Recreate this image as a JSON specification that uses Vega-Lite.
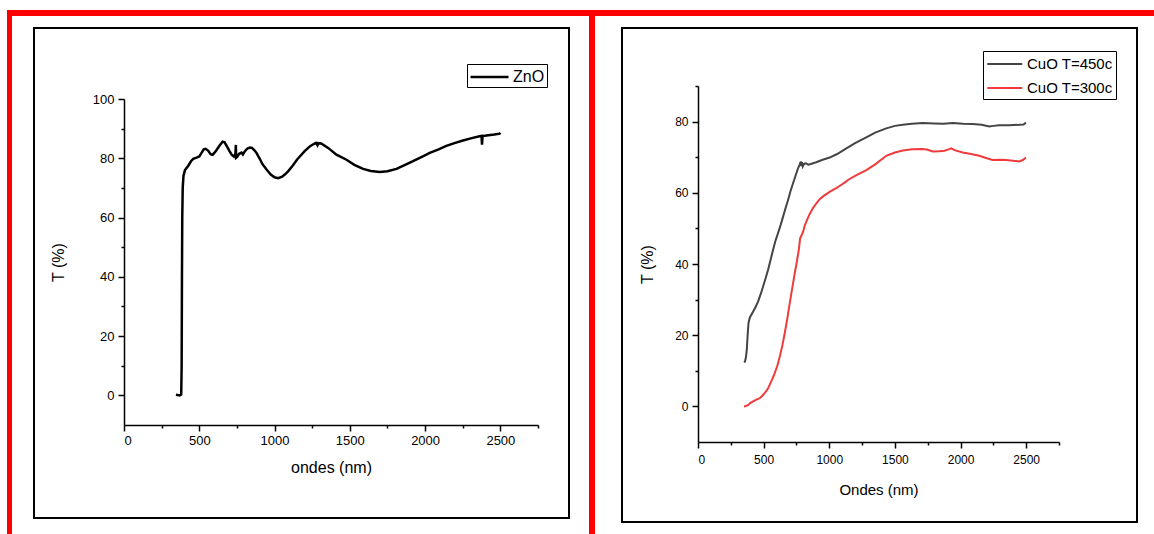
{
  "$schema": "https://vega.github.io/schema/vega-lite/v6.json",
  "background": "white",
  "padding": {"left": 7, "top": 10, "right": 0, "bottom": 0},
  "spacing": 0,
  "resolve": {"scale": {"color": "independent"}, "legend": {"color": "independent"}},
  "config": {
    "view": {"stroke": null},
    "font": "Liberation Sans",
    "axis": {"grid": false, "domainColor": "black", "domainWidth": 1.5, "tickColor": "black", "tickWidth": 1.5, "labelColor": "black", "titleColor": "black", "titleFontWeight": "normal", "labelOverlap": false, "labelFont": "Liberation Sans", "titleFont": "Liberation Sans"},
    "legend": {"labelFont": "Liberation Sans"}
  },
  "datasets": {
    "zno": [
      {"x":345,"y":0.2},{"x":370,"y":0.0},{"x":380,"y":0.3},{"x":383,"y":10},{"x":385,"y":40},{"x":387,"y":60},{"x":390,"y":70},{"x":395,"y":74},{"x":405,"y":76},{"x":427,"y":77.5},{"x":445,"y":79},{"x":460,"y":79.8},{"x":482,"y":80.2},{"x":500,"y":80.6},{"x":515,"y":81.8},{"x":530,"y":83},{"x":542,"y":83.2},{"x":560,"y":82.5},{"x":575,"y":81.4},{"x":589,"y":81.2},{"x":600,"y":81.8},{"x":615,"y":82.8},{"x":635,"y":84.3},{"x":655,"y":85.6},{"x":668,"y":85.4},{"x":682,"y":84.2},{"x":700,"y":82.5},{"x":715,"y":81.2},{"x":730,"y":80.6},{"x":740,"y":81.5},{"x":743,"y":84.5},{"x":745,"y":80.2},{"x":752,"y":80.5},{"x":765,"y":81.5},{"x":781,"y":81.9},{"x":790,"y":81.3},{"x":803,"y":82.4},{"x":820,"y":83.3},{"x":836,"y":83.6},{"x":850,"y":83.5},{"x":865,"y":82.8},{"x":880,"y":81.8},{"x":900,"y":80},{"x":920,"y":78},{"x":947,"y":76.2},{"x":975,"y":74.5},{"x":1000,"y":73.6},{"x":1024,"y":73.3},{"x":1050,"y":73.8},{"x":1070,"y":74.6},{"x":1090,"y":75.6},{"x":1120,"y":77.5},{"x":1150,"y":79.6},{"x":1168,"y":80.6},{"x":1200,"y":82.4},{"x":1234,"y":84},{"x":1260,"y":84.8},{"x":1275,"y":85.2},{"x":1285,"y":84.4},{"x":1290,"y":85.1},{"x":1310,"y":85},{"x":1356,"y":83.5},{"x":1411,"y":81.2},{"x":1478,"y":79.5},{"x":1530,"y":77.8},{"x":1588,"y":76.4},{"x":1640,"y":75.7},{"x":1699,"y":75.4},{"x":1750,"y":75.6},{"x":1810,"y":76.4},{"x":1860,"y":77.6},{"x":1920,"y":79},{"x":1975,"y":80.4},{"x":2031,"y":81.8},{"x":2090,"y":83},{"x":2141,"y":84.2},{"x":2200,"y":85.2},{"x":2252,"y":86},{"x":2310,"y":86.8},{"x":2362,"y":87.4},{"x":2375,"y":87.5},{"x":2378,"y":84.6},{"x":2382,"y":87.5},{"x":2420,"y":87.8},{"x":2460,"y":88},{"x":2495,"y":88.3},{"x":2500,"y":88.6}
    ],
    "cuo": [
      {"x":350,"y":12.4,"s":"CuO T=450c"},{"x":358,"y":12.6,"s":"CuO T=450c"},{"x":365,"y":13.8,"s":"CuO T=450c"},{"x":372,"y":16,"s":"CuO T=450c"},{"x":378,"y":20,"s":"CuO T=450c"},{"x":385,"y":23.5,"s":"CuO T=450c"},{"x":395,"y":25,"s":"CuO T=450c"},{"x":416,"y":26.4,"s":"CuO T=450c"},{"x":440,"y":28,"s":"CuO T=450c"},{"x":458,"y":29.5,"s":"CuO T=450c"},{"x":480,"y":31.8,"s":"CuO T=450c"},{"x":496,"y":33.7,"s":"CuO T=450c"},{"x":515,"y":36,"s":"CuO T=450c"},{"x":534,"y":38.4,"s":"CuO T=450c"},{"x":555,"y":41.5,"s":"CuO T=450c"},{"x":572,"y":44,"s":"CuO T=450c"},{"x":590,"y":46.5,"s":"CuO T=450c"},{"x":610,"y":48.7,"s":"CuO T=450c"},{"x":630,"y":51,"s":"CuO T=450c"},{"x":648,"y":53.3,"s":"CuO T=450c"},{"x":668,"y":55.8,"s":"CuO T=450c"},{"x":686,"y":58,"s":"CuO T=450c"},{"x":705,"y":60.5,"s":"CuO T=450c"},{"x":724,"y":62.7,"s":"CuO T=450c"},{"x":745,"y":65,"s":"CuO T=450c"},{"x":762,"y":66.9,"s":"CuO T=450c"},{"x":775,"y":68,"s":"CuO T=450c"},{"x":783,"y":68.8,"s":"CuO T=450c"},{"x":787,"y":67.5,"s":"CuO T=450c"},{"x":792,"y":68.6,"s":"CuO T=450c"},{"x":798,"y":67.4,"s":"CuO T=450c"},{"x":810,"y":68.2,"s":"CuO T=450c"},{"x":821,"y":68.3,"s":"CuO T=450c"},{"x":840,"y":67.9,"s":"CuO T=450c"},{"x":859,"y":68.1,"s":"CuO T=450c"},{"x":900,"y":68.6,"s":"CuO T=450c"},{"x":950,"y":69.3,"s":"CuO T=450c"},{"x":1003,"y":69.9,"s":"CuO T=450c"},{"x":1060,"y":70.9,"s":"CuO T=450c"},{"x":1130,"y":72.5,"s":"CuO T=450c"},{"x":1200,"y":74,"s":"CuO T=450c"},{"x":1282,"y":75.6,"s":"CuO T=450c"},{"x":1350,"y":76.9,"s":"CuO T=450c"},{"x":1434,"y":78.1,"s":"CuO T=450c"},{"x":1500,"y":78.8,"s":"CuO T=450c"},{"x":1560,"y":79.1,"s":"CuO T=450c"},{"x":1630,"y":79.4,"s":"CuO T=450c"},{"x":1712,"y":79.6,"s":"CuO T=450c"},{"x":1800,"y":79.5,"s":"CuO T=450c"},{"x":1870,"y":79.4,"s":"CuO T=450c"},{"x":1940,"y":79.6,"s":"CuO T=450c"},{"x":2020,"y":79.4,"s":"CuO T=450c"},{"x":2092,"y":79.3,"s":"CuO T=450c"},{"x":2160,"y":79.1,"s":"CuO T=450c"},{"x":2219,"y":78.6,"s":"CuO T=450c"},{"x":2250,"y":78.8,"s":"CuO T=450c"},{"x":2295,"y":79,"s":"CuO T=450c"},{"x":2370,"y":79,"s":"CuO T=450c"},{"x":2447,"y":79.1,"s":"CuO T=450c"},{"x":2480,"y":79.2,"s":"CuO T=450c"},{"x":2498,"y":79.7,"s":"CuO T=450c"},
      {"x":350,"y":0,"s":"CuO T=300c"},{"x":365,"y":0.1,"s":"CuO T=300c"},{"x":383,"y":0.4,"s":"CuO T=300c"},{"x":400,"y":1,"s":"CuO T=300c"},{"x":420,"y":1.4,"s":"CuO T=300c"},{"x":445,"y":1.9,"s":"CuO T=300c"},{"x":471,"y":2.3,"s":"CuO T=300c"},{"x":490,"y":3,"s":"CuO T=300c"},{"x":509,"y":3.8,"s":"CuO T=300c"},{"x":530,"y":4.8,"s":"CuO T=300c"},{"x":547,"y":6.1,"s":"CuO T=300c"},{"x":565,"y":7.6,"s":"CuO T=300c"},{"x":585,"y":9.4,"s":"CuO T=300c"},{"x":605,"y":11.5,"s":"CuO T=300c"},{"x":623,"y":14,"s":"CuO T=300c"},{"x":642,"y":17,"s":"CuO T=300c"},{"x":661,"y":20.6,"s":"CuO T=300c"},{"x":680,"y":24.6,"s":"CuO T=300c"},{"x":699,"y":29,"s":"CuO T=300c"},{"x":718,"y":33.2,"s":"CuO T=300c"},{"x":737,"y":37.4,"s":"CuO T=300c"},{"x":750,"y":40,"s":"CuO T=300c"},{"x":768,"y":44,"s":"CuO T=300c"},{"x":778,"y":47.2,"s":"CuO T=300c"},{"x":782,"y":47.5,"s":"CuO T=300c"},{"x":788,"y":48,"s":"CuO T=300c"},{"x":800,"y":49,"s":"CuO T=300c"},{"x":815,"y":51,"s":"CuO T=300c"},{"x":831,"y":52.4,"s":"CuO T=300c"},{"x":850,"y":54,"s":"CuO T=300c"},{"x":876,"y":55.7,"s":"CuO T=300c"},{"x":905,"y":57.2,"s":"CuO T=300c"},{"x":927,"y":58.2,"s":"CuO T=300c"},{"x":960,"y":59.2,"s":"CuO T=300c"},{"x":1000,"y":60.2,"s":"CuO T=300c"},{"x":1028,"y":60.8,"s":"CuO T=300c"},{"x":1054,"y":61.3,"s":"CuO T=300c"},{"x":1090,"y":62.2,"s":"CuO T=300c"},{"x":1130,"y":63.2,"s":"CuO T=300c"},{"x":1142,"y":63.6,"s":"CuO T=300c"},{"x":1200,"y":64.8,"s":"CuO T=300c"},{"x":1282,"y":66.4,"s":"CuO T=300c"},{"x":1350,"y":68,"s":"CuO T=300c"},{"x":1434,"y":70.4,"s":"CuO T=300c"},{"x":1500,"y":71.3,"s":"CuO T=300c"},{"x":1560,"y":71.9,"s":"CuO T=300c"},{"x":1630,"y":72.2,"s":"CuO T=300c"},{"x":1712,"y":72.3,"s":"CuO T=300c"},{"x":1750,"y":72.1,"s":"CuO T=300c"},{"x":1788,"y":71.6,"s":"CuO T=300c"},{"x":1840,"y":71.7,"s":"CuO T=300c"},{"x":1877,"y":71.8,"s":"CuO T=300c"},{"x":1910,"y":72.2,"s":"CuO T=300c"},{"x":1928,"y":72.5,"s":"CuO T=300c"},{"x":1960,"y":71.9,"s":"CuO T=300c"},{"x":2017,"y":71.3,"s":"CuO T=300c"},{"x":2080,"y":70.9,"s":"CuO T=300c"},{"x":2143,"y":70.4,"s":"CuO T=300c"},{"x":2200,"y":69.7,"s":"CuO T=300c"},{"x":2244,"y":69.2,"s":"CuO T=300c"},{"x":2300,"y":69.3,"s":"CuO T=300c"},{"x":2346,"y":69.2,"s":"CuO T=300c"},{"x":2400,"y":69,"s":"CuO T=300c"},{"x":2447,"y":68.8,"s":"CuO T=300c"},{"x":2475,"y":69.2,"s":"CuO T=300c"},{"x":2498,"y":69.9,"s":"CuO T=300c"}
    ]
  },
  "vconcat": [
    {
      "width": 1160, "height": 6,
      "view": {"fill": "#FF0000", "stroke": null},
      "data": {"values": [{}]},
      "mark": {"type": "rect", "color": "#FF0000"},
      "encoding": {}
    },
    {
      "spacing": 19,
      "resolve": {"scale": {"color": "independent"}, "legend": {"color": "independent"}},
      "hconcat": [
        {
          "spacing": 21,
          "hconcat": [
            {
              "width": 5, "height": 530,
              "view": {"fill": "#FF0000", "stroke": null},
              "data": {"values": [{}]},
              "mark": {"type": "rect", "color": "#FF0000"},
              "encoding": {}
            },
            {
              "spacing": 10,
              "vconcat": [
                {
                  "width": 535, "height": 1,
                  "data": {"values": [{}]},
                  "mark": {"type": "rect", "opacity": 0},
                  "encoding": {}
                },
                {
                  "width": 535, "height": 490,
                  "view": {"stroke": "black", "strokeWidth": 2},
                  "data": {"name": "zno"},
                  "mark": {"type": "line", "strokeWidth": 2.5},
                  "encoding": {
                    "x": {
                      "field": "x", "type": "quantitative",
                      "scale": {"domain": [0, 2750], "range": [90, 504], "nice": false, "zero": false},
                      "axis": {
                        "title": "ondes (nm)", "offset": -93, "format": "d",
                        "values": [0,250,500,750,1000,1250,1500,1750,2000,2250,2500,2750],
                        "labelExpr": "datum.value % 500 === 0 ? datum.label : ''",
                        "tickSize": {"condition": {"test": "datum.value % 500 === 0", "value": 6}, "value": 3},
                        "labelFontSize": 13, "labelPadding": 3,
                        "titleFontSize": 16, "titlePadding": 12
                      }
                    },
                    "y": {
                      "field": "y", "type": "quantitative",
                      "scale": {"domain": [-10, 100], "range": [397, 71], "nice": false, "zero": false},
                      "axis": {
                        "title": "T (%)", "offset": -90, "format": "d",
                        "values": [0,10,20,30,40,50,60,70,80,90,100],
                        "labelExpr": "datum.value % 20 === 0 ? datum.label : ''",
                        "tickSize": {"condition": {"test": "datum.value % 20 === 0", "value": 6}, "value": 3},
                        "labelFontSize": 13, "labelPadding": 4,
                        "titleFontSize": 16, "titlePadding": 26
                      }
                    },
                    "color": {
                      "datum": "ZnO", "type": "nominal",
                      "scale": {"domain": ["ZnO"], "range": ["#000000"]},
                      "legend": {
                        "title": null, "orient": "none", "legendX": 460, "legendY": 48,
                        "strokeColor": "black", "padding": 2, "cornerRadius": 0,
                        "symbolType": "M-1,0H3", "symbolSize": 361, "symbolStrokeWidth": 2.5,
                        "labelFontSize": 16, "labelColor": "black", "labelOffset": 22
                      }
                    }
                  }
                }
              ]
            }
          ]
        },
        {
          "spacing": 26,
          "hconcat": [
            {
              "width": 6, "height": 530,
              "view": {"fill": "#FF0000", "stroke": null},
              "data": {"values": [{}]},
              "mark": {"type": "rect", "color": "#FF0000"},
              "encoding": {}
            },
            {
              "spacing": 10,
              "vconcat": [
                {
                  "width": 515, "height": 1,
                  "data": {"values": [{}]},
                  "mark": {"type": "rect", "opacity": 0},
                  "encoding": {}
                },
                {
                  "width": 515, "height": 494,
                  "view": {"stroke": "black", "strokeWidth": 2},
                  "data": {"name": "cuo"},
                  "mark": {"type": "line", "strokeWidth": 2},
                  "encoding": {
                    "x": {
                      "field": "x", "type": "quantitative",
                      "scale": {"domain": [0, 2750], "range": [76, 437], "nice": false, "zero": false},
                      "axis": {
                        "title": "Ondes (nm)", "offset": -80, "format": "d",
                        "values": [0,250,500,750,1000,1250,1500,1750,2000,2250,2500,2750],
                        "labelExpr": "datum.value % 500 === 0 ? datum.label : ''",
                        "tickSize": {"condition": {"test": "datum.value % 500 === 0", "value": 6}, "value": 3},
                        "labelFontSize": 12, "labelPadding": 6,
                        "titleFontSize": 15, "titlePadding": 17
                      }
                    },
                    "y": {
                      "field": "y", "type": "quantitative",
                      "scale": {"domain": [-10, 90], "range": [414, 58], "nice": false, "zero": false},
                      "axis": {
                        "title": "T (%)", "offset": -76, "format": "d",
                        "values": [0,10,20,30,40,50,60,70,80,90],
                        "labelExpr": "datum.value % 20 === 0 ? datum.label : ''",
                        "tickSize": {"condition": {"test": "datum.value % 20 === 0", "value": 6}, "value": 3},
                        "labelFontSize": 12, "labelPadding": 4,
                        "titleFontSize": 16, "titlePadding": 19
                      }
                    },
                    "color": {
                      "field": "s", "type": "nominal",
                      "scale": {"domain": ["CuO T=450c", "CuO T=300c"], "range": ["#444444", "#EF3B3B"]},
                      "legend": {
                        "title": null, "orient": "none", "legendX": 394, "legendY": 35,
                        "strokeColor": "black", "padding": 3, "cornerRadius": 0, "rowPadding": 6,
                        "symbolType": "M-1,0H3", "symbolSize": 306, "symbolStrokeWidth": 2,
                        "labelFontSize": 15, "labelColor": "black", "labelOffset": 21, "labelLimit": 300
                      }
                    }
                  }
                }
              ]
            }
          ]
        }
      ]
    }
  ]
}
